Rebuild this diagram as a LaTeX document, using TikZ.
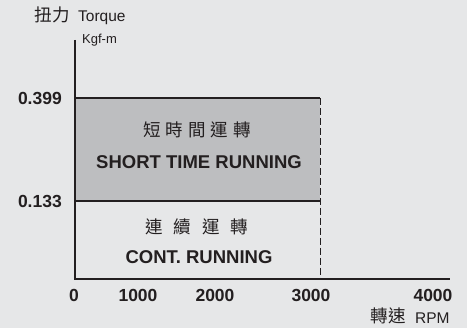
\documentclass[tikz,border=0pt]{standalone}
\usepackage{fontspec}
\setmainfont{Liberation Sans}
\newfontfamily\cjk{Noto Sans CJK TC}
\definecolor{bg}{HTML}{E6E7E8}
\definecolor{shortfill}{HTML}{BDBEC0}
\definecolor{ink}{HTML}{231F20}
\tikzset{
	numlabel/.style={text=ink, font=\bfseries\fontsize{17.5}{18}\selectfont, inner sep=0pt},
	runlabel/.style={text=ink, font=\bfseries\fontsize{18.5}{19}\selectfont, inner sep=0pt},
	cjklabel/.style={text=ink, font=\cjk\fontsize{17.5}{18}\selectfont, inner sep=0pt},
	unitlabel/.style={text=ink, font=\fontsize{15.5}{16}\selectfont, inner sep=0pt},
	axisline/.style={draw=ink, line width=2.6pt},
	edgeline/.style={draw=ink, line width=2.4pt},
	limitline/.style={draw=ink, line width=1pt, dash pattern=on 7pt off 3pt}
}
\begin{document}
\begin{tikzpicture}[x=1pt, y=-1pt]
	%背景
	\fill[bg] (0,0) rectangle (467,328);
	\useasboundingbox (0,0) rectangle (467,328);
	%原点
	\path (75,279) coordinate (O);
	%軸端
	\path (75,40) coordinate (Ytop);
	\path (450,279) coordinate (Xend);
	%頂点
	\path (75,98) coordinate (A);
	\path (320,98) coordinate (B);
	\path (75,201) coordinate (C);
	\path (320,201) coordinate (D);
	\path (320,279) coordinate (E);
	%短時間運轉
	\fill[shortfill] (A) rectangle (D);
	\draw[edgeline] (A)--(B);
	\draw[edgeline] (C)--(D);
	\draw[limitline] (B)--(E);
	%軸
	\draw[axisline] (Ytop)--(O)--(Xend);
	%y軸
	\node[cjklabel] (torquecjk) at (52,15) {扭力};
	\node[unitlabel, anchor=west] (torque) at (78,18) {Torque};
	\node[unitlabel, font=\fontsize{13}{14}\selectfont, anchor=west] (kgfm) at (82,40) {Kgf-m};
	\node[numlabel, anchor=east] (y399) at (62,98) {0.399};
	\node[numlabel, anchor=east] (y133) at (62,201) {0.133};
	%x軸
	\node[numlabel] (x0) at (74,295) {0};
	\node[numlabel] (x1000) at (138,295) {1000};
	\node[numlabel] (x2000) at (215,295) {2000};
	\node[numlabel] (x3000) at (311,295) {3000};
	\node[numlabel] (x4000) at (433,295) {4000};
	\node[cjklabel] (speedcjk) at (388,316) {轉速};
	\node[unitlabel, anchor=west] (rpm) at (415,318) {RPM};
	%領域
	\node[cjklabel] (shortcjk) at (197,130) {短\hspace{5pt}時\hspace{5pt}間\hspace{5pt}運\hspace{5pt}轉};
	\node[runlabel] (short) at (199,162) {SHORT TIME RUNNING};
	\node[cjklabel] (contcjk) at (197,227) {連\hspace{11pt}續\hspace{11pt}運\hspace{11pt}轉};
	\node[runlabel] (cont) at (199,257) {CONT. RUNNING};
\end{tikzpicture}
\end{document}
